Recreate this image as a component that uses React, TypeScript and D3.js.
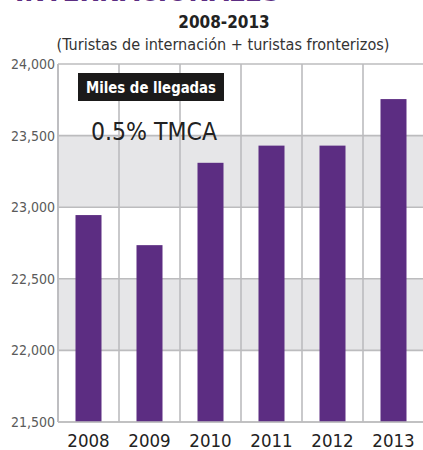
import React from "react";
import * as d3 from "d3";

const years = ["2008", "2009", "2010", "2011", "2012", "2013"];
const arrivals = [22945, 22735, 23310, 23430, 23430, 23755];
const yTicks = [21500, 22000, 22500, 23000, 23500, 24000];
const shadedBands = [[22000, 22500], [23000, 23500]];

const W = 423;
const H = 450;
const FONT = "'DejaVu Sans Condensed', 'DejaVu Sans', sans-serif";

export default function App() {
  const x = d3.scaleBand<string>().domain(years).range([58, 424]).paddingInner(0).paddingOuter(0);
  const y = d3.scaleLinear().domain([21500, 24000]).range([422, 64]);
  const barW = 26;
  const fmt = d3.format(",");
  const gridColor = "#bcbcbe";

  return (
    <svg width={W} height={H} style={{ position: "absolute", left: 0, top: 0, background: "#fff" }} fontFamily={FONT}>
      <text x={15} y={1} fontSize={30} fontWeight="bold" fill="#5c2d82" textLength={265} lengthAdjust="spacingAndGlyphs">INTERNACIONALES</text>
      <text x={224} y={28} textAnchor="middle" fontSize={17} fontWeight="bold" fill="#222">2008-2013</text>
      <text x={223} y={50} textAnchor="middle" fontSize={15} fill="#333" textLength={333} lengthAdjust="spacingAndGlyphs">(Turistas de internación + turistas fronterizos)</text>

      {shadedBands.map((b, i) => (
        <rect key={i} x={58} y={y(b[1])} width={366} height={y(b[0]) - y(b[1])} fill="#e6e6e8" />
      ))}
      {yTicks.map((t) => (
        <line key={t} x1={58} x2={424} y1={y(t)} y2={y(t)} stroke={gridColor} strokeWidth={1.6} />
      ))}
      {years.map((yr) => (
        <line key={yr} x1={x(yr)!} x2={x(yr)!} y1={y(24000)} y2={y(21500)} stroke={gridColor} strokeWidth={1.6} />
      ))}
      <line x1={58} x2={58} y1={y(24000)} y2={y(21500)} stroke={gridColor} strokeWidth={1.6} />

      {years.map((yr, i) => (
        <rect key={yr} x={x(yr)! + x.bandwidth() / 2 - barW / 2} y={y(arrivals[i])} width={barW} height={y(21500) - y(arrivals[i])} fill="#5c2d82" />
      ))}
      <line x1={58} x2={424} y1={y(21500)} y2={y(21500)} stroke={gridColor} strokeWidth={1.6} />

      {yTicks.map((t) => (
        <text key={t} x={55} y={y(t) + 5} textAnchor="end" fontSize={14} fill="#5a5a5a">{fmt(t)}</text>
      ))}
      {years.map((yr) => (
        <text key={yr} x={x(yr)! + x.bandwidth() / 2} y={447} textAnchor="middle" fontSize={18.5} fill="#222">{yr}</text>
      ))}

      <rect x={78} y={73} width={146} height={28} fill="#1b1a1a" />
      <text x={151} y={93} textAnchor="middle" fontSize={15.5} fontWeight="bold" fill="#fff" textLength={130} lengthAdjust="spacingAndGlyphs">Miles de llegadas</text>
      <text x={91} y={140} fontSize={24} fill="#222" textLength={126} lengthAdjust="spacingAndGlyphs">0.5% TMCA</text>
    </svg>
  );
}
